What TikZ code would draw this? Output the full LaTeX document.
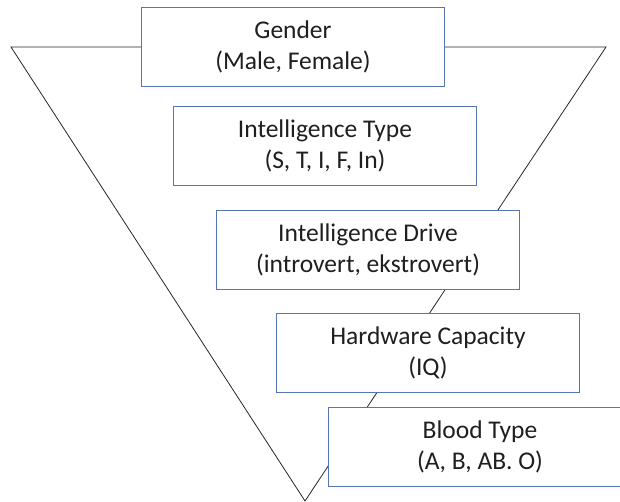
\documentclass[tikz,border=0pt]{standalone}
\usepackage{fontspec}
\setmainfont{Carlito}
\usetikzlibrary{positioning}
\definecolor{boxline}{RGB}{84,118,180}

\begin{document}
\begin{tikzpicture}[
  x=1pt, y=-1pt,
  node distance=19pt,
  box/.style={draw=boxline, line width=0.9pt, fill=white, align=center,
              minimum width=303pt, minimum height=79pt, inner sep=0pt,
              text=black!88, font=\fontsize{25.5}{31}\selectfont},
  funnel/.style={draw=black!85, line width=0.8pt, line join=miter}
]
\useasboundingbox (0,0) rectangle (620,501);
% funnel outline
\coordinate (tl) at (11,47);
\coordinate (tr) at (606,47);
\coordinate (apex) at (305,501);
\draw[funnel] (tl) -- (tr) -- (apex) -- cycle;
% layers
\node[box] (gender) at (293,47) {Gender\\(Male, Female)};
\node[box, below=19pt of gender, xshift=32pt] (itype) {Intelligence Type\\(S, T, I, F, In)};
\node[box, below=24pt of itype, xshift=43pt] (idrive) {Intelligence Drive\\(introvert, ekstrovert)};
\node[box, below=23pt of idrive, xshift=60pt] (hardware) {Hardware Capacity\\(IQ)};
\node[box, below=14pt of hardware, xshift=52pt] (blood) {Blood Type\\(A, B, AB. O)};
\end{tikzpicture}
\end{document}
